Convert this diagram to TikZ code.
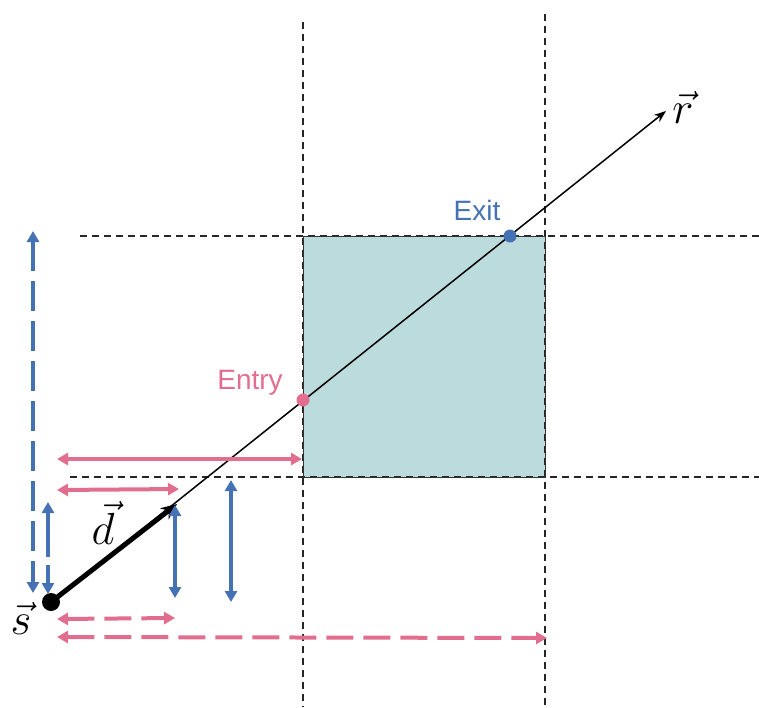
\documentclass[tikz,border=0pt]{standalone}
\usepackage{fix-cm}
\usepackage{fontspec}
\newfontfamily\arialfont{Liberation Sans}
\usetikzlibrary{arrows.meta}
\definecolor{pinkc}{RGB}{226,110,143}
\definecolor{bluec}{RGB}{68,114,180}
\definecolor{boxc}{RGB}{188,219,220}
\tikzset{
  grid/.style={black!85, line width=1.2pt, dash pattern=on 7pt off 5pt},
  dbl/.style={line width=4pt, {Triangle[length=11pt,width=12pt]}-{Triangle[length=11pt,width=12pt]}},
  pinkarr/.style={dbl, pinkc},
  bluearr/.style={dbl, bluec},
  longdash/.style={dash pattern=on 27pt off 10pt},
  lbl/.style={font=\fontsize{45}{48}\selectfont, inner sep=0pt},
  tag/.style={font=\arialfont\fontsize{28}{28}\selectfont, inner sep=0pt}
}
\begin{document}
\begin{tikzpicture}[x=1pt,y=-1pt]
\useasboundingbox (0,0) rectangle (759,707);
% grid
\coordinate (v1t) at (303,22); \coordinate (v1b) at (303,707);
\coordinate (v2t) at (545,14); \coordinate (v2b) at (545,707);
\coordinate (h1l) at (80,236); \coordinate (h1r) at (759,236);
\coordinate (h2l) at (70,477); \coordinate (h2r) at (759,477);
\fill[boxc] (303,236) rectangle (545,477);
\draw[grid] (v1t) -- (v1b);
\draw[grid] (v2t) -- (v2b);
\draw[grid] (h1l) -- (h1r);
\draw[grid] (h2l) -- (h2r);
\draw[black!80, line width=1pt] (303,236) rectangle (545,477);
% ray
\coordinate (s) at (51,602);
\coordinate (rend) at (666,111);
\coordinate (dend) at (177,504);
\draw[line width=1.5pt, -{Stealth[length=12pt,width=9pt]}] (s) -- (rend);
\draw[line width=5pt, -{Stealth[length=16pt,width=14pt]}] (s) -- (dend);
\fill (s) circle (9);
% points
\node[circle, fill=pinkc, inner sep=0pt, minimum size=13pt] (entry) at (303,400) {};
\node[circle, fill=bluec, inner sep=0pt, minimum size=13pt] (exit) at (510,236) {};
\node[tag, text=pinkc] (entryl) at (250,383) {Entry};
\node[tag, text=bluec] (exitl) at (477,210) {Exit};
% labels
\node[lbl] (sl) at (21,618) {$\vec{s}$};
\node[lbl] (dl) at (103,523) {$\vec{d}$};
\node[lbl] (rl) at (683,107) {$\vec{r}$};
% pink arrows
\coordinate (p1a) at (57,459); \coordinate (p1b) at (302,459);
\coordinate (p2a) at (57,490); \coordinate (p2b) at (179,489);
\coordinate (p3a) at (57,619); \coordinate (p3b) at (175,618);
\coordinate (p4a) at (57,637); \coordinate (p4b) at (547,638);
\draw[pinkarr] (p1a) -- (p1b);
\draw[pinkarr] (p2a) -- (p2b);
\draw[pinkarr, longdash] (p3a) -- (p3b);
\draw[pinkarr, longdash] (p4a) -- (p4b);
% blue arrows
\coordinate (b1a) at (33,231); \coordinate (b1b) at (33,593);
\coordinate (b2a) at (48,502); \coordinate (b2b) at (48,594);
\coordinate (b3a) at (175,505); \coordinate (b3b) at (175,598);
\coordinate (b4a) at (231,480); \coordinate (b4b) at (231,602);
\draw[bluearr, dash pattern=on 30pt off 10pt] (b1a) -- (b1b);
\draw[bluearr, dash pattern=on 45pt off 8pt] (b2a) -- (b2b);
\draw[bluearr] (b3a) -- (b3b);
\draw[bluearr] (b4a) -- (b4b);
\end{tikzpicture}
\end{document}
